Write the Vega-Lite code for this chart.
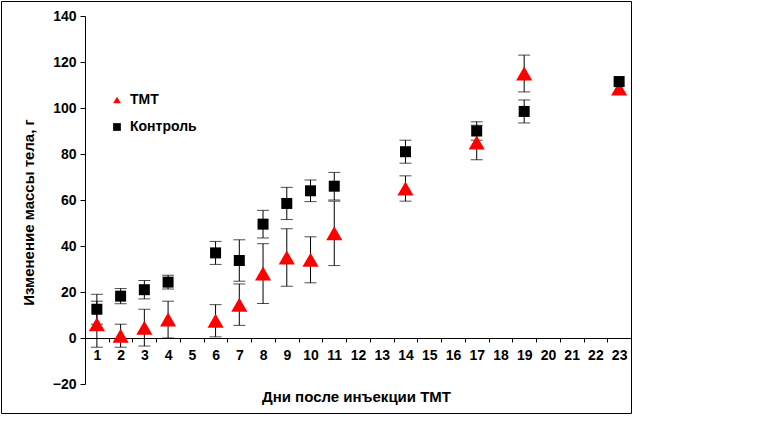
{
  "$schema": "https://vega.github.io/schema/vega-lite/v6.json",
  "width": 630,
  "height": 412,
  "autosize": {"type": "none"},
  "padding": {"left": 1, "top": 1, "right": 145, "bottom": 12},
  "background": "white",
  "data": {
    "values": [
      {"day": 1, "group": "ТМТ", "mean": 6, "err": 10},
      {"day": 2, "group": "ТМТ", "mean": 1, "err": 5},
      {"day": 3, "group": "ТМТ", "mean": 4.5, "err": 8},
      {"day": 4, "group": "ТМТ", "mean": 8, "err": 8},
      {"day": 6, "group": "ТМТ", "mean": 7.5, "err": 7},
      {"day": 7, "group": "ТМТ", "mean": 14.5, "err": 9},
      {"day": 8, "group": "ТМТ", "mean": 28, "err": 13},
      {"day": 9, "group": "ТМТ", "mean": 35, "err": 12.5},
      {"day": 10, "group": "ТМТ", "mean": 34, "err": 10},
      {"day": 11, "group": "ТМТ", "mean": 45.5, "err": 14},
      {"day": 14, "group": "ТМТ", "mean": 65, "err": 5.5},
      {"day": 17, "group": "ТМТ", "mean": 85, "err": 7.5},
      {"day": 19, "group": "ТМТ", "mean": 115, "err": 8},
      {"day": 23, "group": "ТМТ", "mean": 108.5, "err": null},
      {"day": 1, "group": "Контроль", "mean": 12.5, "err": 6.5},
      {"day": 2, "group": "Контроль", "mean": 18.2, "err": 3.3},
      {"day": 3, "group": "Контроль", "mean": 21, "err": 4},
      {"day": 4, "group": "Контроль", "mean": 24.3, "err": 3},
      {"day": 6, "group": "Контроль", "mean": 37, "err": 5},
      {"day": 7, "group": "Контроль", "mean": 33.7, "err": 9},
      {"day": 8, "group": "Контроль", "mean": 49.5, "err": 6},
      {"day": 9, "group": "Контроль", "mean": 58.5, "err": 7},
      {"day": 10, "group": "Контроль", "mean": 64, "err": 4.7},
      {"day": 11, "group": "Контроль", "mean": 66, "err": 6},
      {"day": 14, "group": "Контроль", "mean": 81, "err": 5},
      {"day": 17, "group": "Контроль", "mean": 90, "err": 4},
      {"day": 19, "group": "Контроль", "mean": 98.5, "err": 5},
      {"day": 23, "group": "Контроль", "mean": 111.5, "err": null}
    ]
  },
  "encoding": {
    "x": {
      "field": "day",
      "type": "ordinal",
      "scale": {
        "domain": [1, 2, 3, 4, 5, 6, 7, 8, 9, 10, 11, 12, 13, 14, 15, 16, 17, 18, 19, 20, 21, 22, 23],
        "range": [84, 630],
        "paddingInner": 0,
        "paddingOuter": 0
      },
      "axis": {
        "title": "Дни после инъекции ТМТ",
        "offset": -75,
        "labelAngle": 0,
        "tickBand": "extent",
        "tickSize": 4,
        "labelPadding": 6,
        "titleX": 355,
        "titleY": 58,
        "titleAlign": "center",
        "titleBaseline": "middle"
      }
    },
    "y": {
      "field": "mean",
      "type": "quantitative",
      "scale": {"domain": [-20, 140], "range": [383, 15], "nice": false, "zero": false},
      "axis": {
        "title": "Изменение массы тела, г",
        "offset": -84,
        "values": [-20, 0, 20, 40, 60, 80, 100, 120, 140],
        "tickSize": 5,
        "labelPadding": 4,
        "titleX": -57,
        "titleY": 211,
        "titleAngle": 270,
        "titleAlign": "center",
        "titleBaseline": "middle"
      }
    },
    "color": {
      "field": "group",
      "type": "nominal",
      "scale": {"domain": ["ТМТ", "Контроль"], "range": ["#ff0000", "#000000"]},
      "legend": {
        "title": null,
        "orient": "none",
        "legendX": 109,
        "legendY": 92,
        "symbolSize": 60,
        "labelFontSize": 14,
        "labelFontWeight": "bold",
        "labelOffset": 6,
        "rowPadding": 13,
        "padding": 0
      }
    },
    "shape": {
      "field": "group",
      "type": "nominal",
      "scale": {"domain": ["ТМТ", "Контроль"], "range": ["triangle-up", "square"]}
    }
  },
  "layer": [
    {
      "transform": [{"filter": "isValid(datum.err)"}],
      "mark": {"type": "errorbar", "color": "black", "ticks": {"size": 12, "color": "black"}},
      "encoding": {
        "yError": {"field": "err"},
        "detail": {"field": "group"},
        "color": {"value": "black"},
        "shape": null
      }
    },
    {
      "transform": [{"filter": "datum.group === 'ТМТ'"}],
      "mark": {"type": "point", "filled": true, "opacity": 1, "size": 260}
    },
    {
      "transform": [{"filter": "datum.group === 'Контроль'"}],
      "mark": {"type": "point", "filled": true, "opacity": 1, "size": 121}
    }
  ],
  "config": {
    "font": "Liberation Sans",
    "view": {"stroke": "black", "strokeWidth": 1},
    "axis": {
      "grid": false,
      "domainColor": "black",
      "tickColor": "black",
      "labelColor": "black",
      "titleColor": "black",
      "labelFont": "Liberation Sans",
      "labelFontSize": 14,
      "labelFontWeight": "bold",
      "titleFont": "Liberation Sans",
      "titleFontSize": 15,
      "titleFontWeight": "bold"
    },
    "legend": {"labelColor": "black", "labelFont": "Liberation Sans"}
  }
}
